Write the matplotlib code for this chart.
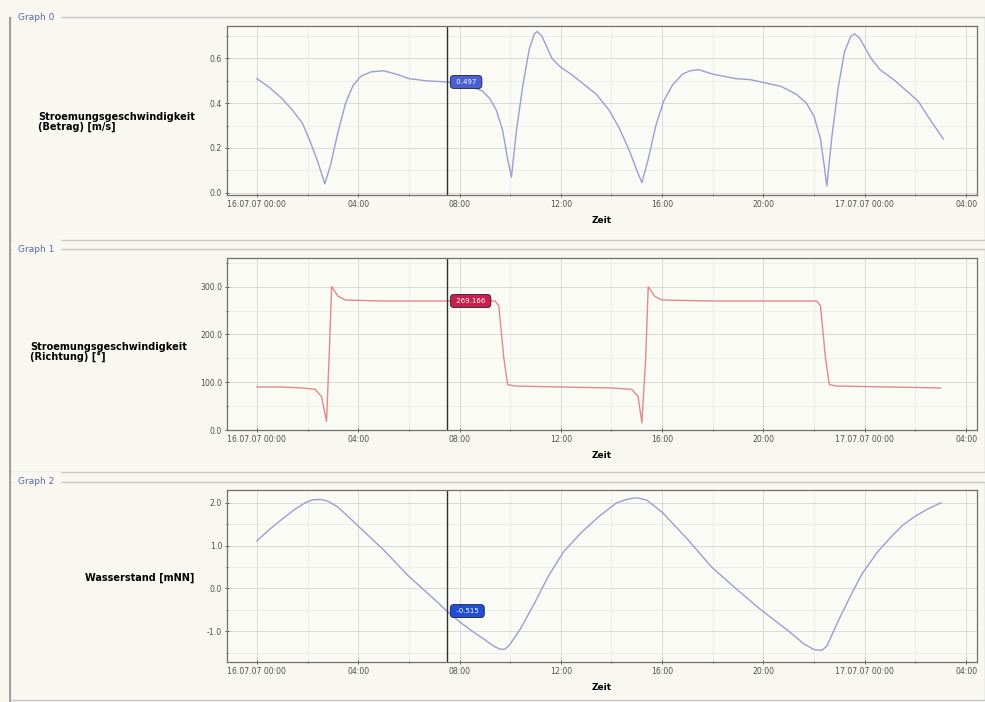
import numpy as np
import matplotlib.pyplot as plt
from matplotlib.patches import Rectangle
from matplotlib.ticker import MultipleLocator

plt.rcParams['axes.unicode_minus'] = False

# time in hours since 16.07.07 00:00
t_betrag = [0.0, 0.5, 1.0, 1.4, 1.8, 2.1, 2.4, 2.68, 2.9, 3.2, 3.5, 3.8, 4.1, 4.5, 5.0,
            5.5, 6.0, 6.7, 7.5, 8.3, 8.9, 9.2, 9.45, 9.7, 9.9, 10.05, 10.25, 10.5, 10.75,
            10.95, 11.07, 11.25, 11.45, 11.65, 12.0, 12.4, 12.85, 13.4, 13.9, 14.3, 14.7,
            15.0, 15.2, 15.45, 15.75, 16.06, 16.4, 16.8, 17.1, 17.44, 18.0, 18.9, 19.5,
            20.1, 20.7, 21.3, 21.7, 22.0, 22.25, 22.4, 22.5, 22.7, 22.95, 23.2, 23.45,
            23.6, 23.8, 24.0, 24.25, 24.6, 25.2, 25.6, 26.1, 26.5, 26.8, 27.1]
v_betrag = [0.51, 0.47, 0.42, 0.37, 0.31, 0.23, 0.14, 0.04, 0.12, 0.27, 0.40, 0.48, 0.52,
            0.54, 0.545, 0.53, 0.51, 0.50, 0.495, 0.48, 0.455, 0.42, 0.37, 0.28, 0.15,
            0.07, 0.28, 0.48, 0.64, 0.71, 0.72, 0.70, 0.65, 0.60, 0.56, 0.53, 0.49, 0.44,
            0.37, 0.29, 0.19, 0.10, 0.045, 0.15, 0.30, 0.41, 0.48, 0.53, 0.545, 0.55,
            0.53, 0.51, 0.505, 0.49, 0.475, 0.44, 0.40, 0.34, 0.24, 0.12, 0.03, 0.25,
            0.47, 0.63, 0.70, 0.71, 0.69, 0.65, 0.60, 0.55, 0.50, 0.46, 0.41, 0.34, 0.29,
            0.24]

t_richtung = [0.0, 1.0, 1.8, 2.3, 2.55, 2.75, 2.85, 2.95, 3.2, 3.5, 5.0, 7.5, 9.4, 9.55,
              9.75, 9.9, 10.2, 12.0, 14.0, 14.8, 15.05, 15.2, 15.35, 15.45, 15.7, 16.0,
              18.0, 22.1, 22.25, 22.45, 22.6, 22.9, 25.0, 27.0]
v_richtung = [90, 90, 88, 85, 70, 18, 150, 300, 280, 272, 270, 270, 270, 260, 150, 95,
              92, 90, 88, 85, 70, 15, 150, 300, 280, 272, 270, 270, 260, 150, 95, 92, 90, 88]

t_stand = [0.0, 0.5, 1.0, 1.5, 1.9, 2.2, 2.5, 2.8, 3.2, 3.6, 4.05, 5.0, 6.0, 7.0, 7.5,
           8.0, 8.5, 9.0, 9.35, 9.6, 9.8, 10.0, 10.4, 11.0, 11.5, 12.1, 12.8, 13.5, 14.2,
           14.6, 15.0, 15.4, 16.0, 17.0, 17.95, 19.0, 19.9, 21.0, 21.6, 22.0, 22.3, 22.5,
           23.0, 23.5, 23.9, 24.5, 25.0, 25.5, 26.0, 26.5, 27.0]
v_stand = [1.11, 1.38, 1.62, 1.85, 2.0, 2.07, 2.08, 2.04, 1.90, 1.68, 1.43, 0.90, 0.28,
           -0.25, -0.53, -0.78, -1.0, -1.2, -1.35, -1.42, -1.42, -1.30, -0.95, -0.30,
           0.28, 0.85, 1.30, 1.68, 2.0, 2.08, 2.12, 2.06, 1.78, 1.15, 0.50, -0.05, -0.50,
           -1.0, -1.3, -1.43, -1.45, -1.35, -0.70, -0.10, 0.35, 0.85, 1.18, 1.48, 1.69,
           1.86, 2.0]

cursor = 7.5
tick_pos = [0, 4, 8, 12, 16, 20, 24, 28]
tick_lab = ['16.07.07 00:00', '04:00', '08:00', '12:00', '16:00', '20:00',
            '17.07.07 00:00', '04:00']

titles = ['Graph 0', 'Graph 1', 'Graph 2']
ylabels = ['Stroemungsgeschwindigkeit\n(Betrag) [m/s]',
           'Stroemungsgeschwindigkeit\n(Richtung) [°]',
           'Wasserstand [mNN]']
markers = ['0.497', '269.166', '-0.515']
marker_col = ['#4a5fd0', '#c8204a', '#1f4fd8']
line_col = ['#9a9fd0', '#e08a8a', '#9a9fd0']

bg = '#f8f8f0'
fig = plt.figure(figsize=(9.85, 7.02), dpi=100, facecolor=bg)

# group boxes
W, H = 985, 702
def box(y0, y1):
    fig.add_artist(Rectangle((10 / W, 1 - y1 / H), 975 / W, (y1 - y0) / H,
                             transform=fig.transFigure, fill=False,
                             edgecolor='#c8c8c8', linewidth=1.0))
box(17, 240)
box(249, 472)
box(482, 700)
fig.add_artist(Rectangle((9 / W, 0), 2 / W, 1 - 17 / H, transform=fig.transFigure,
                         facecolor='#a0a0a0', edgecolor='none'))
for i, y in enumerate([17, 249, 482]):
    fig.text(18 / W, 1 - y / H, titles[i], fontsize=6.5, color='#5a6aa0',
             va='center', ha='left', backgroundcolor=bg)

rects = [(26, 195), (258, 430), (490, 662)]
ylims = [(-0.01, 0.745), (0, 360), (-1.72, 2.3)]
ymaj = [0.2, 100, 1.0]
ymin = [0.1, 50, 0.5]
label_pos = [(38, 122), (30, 352), (85, 578)]
series = [(t_betrag, v_betrag), (t_richtung, v_richtung), (t_stand, v_stand)]

for i in range(3):
    top, bot = rects[i]
    ax = fig.add_axes([227 / W, 1 - bot / H, 750 / W, (bot - top) / H])
    ax.set_facecolor('#fbfbf6')
    t, v = series[i]
    ax.plot(t, v, color=line_col[i], linewidth=1.0)
    ax.set_xlim(-1.18, 28.43)
    ax.set_ylim(*ylims[i])
    ax.set_xticks(tick_pos)
    ax.set_xticklabels(tick_lab)
    ax.xaxis.set_minor_locator(MultipleLocator(2))
    ax.yaxis.set_major_locator(MultipleLocator(ymaj[i]))
    ax.yaxis.set_minor_locator(MultipleLocator(ymin[i]))
    ax.yaxis.set_major_formatter('{x:.1f}')
    ax.grid(which='major', color='#d8d8d8', linewidth=0.7)
    ax.grid(which='minor', color='#e8e8e8', linewidth=0.5)
    ax.tick_params(which='both', labelsize=5.6, colors='#505050', direction='inout',
                   length=3, width=0.6, pad=2)
    ax.tick_params(which='minor', length=2)
    for s in ax.spines.values():
        s.set_color('#707070')
        s.set_linewidth(0.9)
    ax.set_xlabel('Zeit', fontsize=6.5, fontweight='bold', labelpad=5)
    ax.axvline(cursor, color='#303030', linewidth=1.0)
    ym = np.interp(cursor, t, v)
    ax.annotate(' ' + markers[i] + ' ', xy=(cursor, ym), xytext=(5, 0),
                textcoords='offset points', fontsize=5, color='white', va='center',
                ha='left',
                bbox=dict(boxstyle='round,pad=0.5', facecolor=marker_col[i],
                          edgecolor='#202040', linewidth=0.6))
    lx, ly = label_pos[i]
    fig.text(lx / W, 1 - ly / H, ylabels[i], fontsize=7, fontweight='bold',
             ha='left', va='center', linespacing=1.0)

fig.savefig('out.png', dpi=100, facecolor=bg)
